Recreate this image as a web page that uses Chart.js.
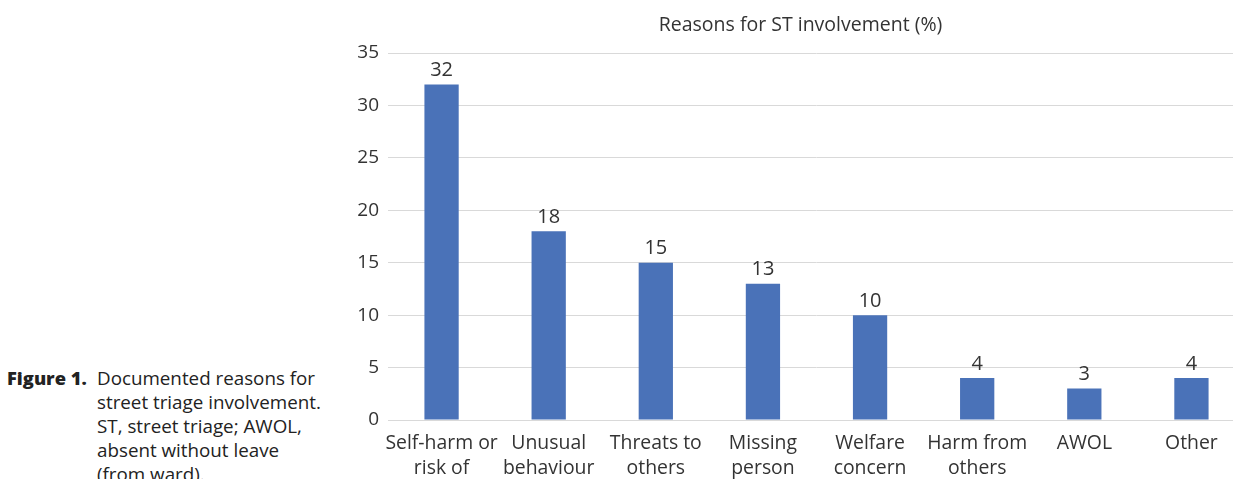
<!DOCTYPE html>
<html>
<head>
<meta charset="utf-8">
<script src="https://cdn.jsdelivr.net/npm/chart.js@4/dist/chart.umd.min.js"></script>
<style>
  html, body { margin: 0; padding: 0; background: #fff; overflow: hidden; width: 1233px; height: 479px; }
  #wrap { position: absolute; left: 340px; top: 0; width: 905px; height: 520px; }
  #caption { position: absolute; left: 7px; top: 366px; font-family: "Open Sans", sans-serif; font-size: 18.8px; color: #222; line-height: 24px; }
  #caption .fig { position: absolute; left: 0; top: 0; font-weight: 800; white-space: nowrap; font-size: 18.3px; }
  #caption .txt { position: absolute; left: 90px; top: 0; width: 250px; white-space: nowrap; }
</style>
</head>
<body>
<div id="caption">
  <span class="fig">Figure 1.</span>
  <div class="txt">Documented reasons for<br>street triage involvement.<br>ST, street triage; AWOL,<br>absent without leave<br>(from ward).</div>
</div>
<div id="wrap"><canvas id="c"></canvas></div>
<script>
const categories = [
  ["Self-harm or", "risk of", "self-harm"],
  ["Unusual", "behaviour"],
  ["Threats to", "others"],
  ["Missing", "person"],
  ["Welfare", "concern"],
  ["Harm from", "others"],
  "AWOL",
  "Other"
];
const values = [32, 18, 15, 13, 10, 4, 3, 4];
const yTicks = [0, 5, 10, 15, 20, 25, 30, 35];
const chartTitle = "Reasons for ST involvement (%)";

const FONT = '"Open Sans", sans-serif';
const TEXT = '#333333';

const valueLabels = {
  id: 'valueLabels',
  afterDatasetsDraw(chart) {
    const ctx = chart.ctx;
    const meta = chart.getDatasetMeta(0);
    ctx.save();
    ctx.font = '20px ' + FONT;
    ctx.fillStyle = TEXT;
    ctx.textAlign = 'center';
    ctx.textBaseline = 'bottom';
    meta.data.forEach((bar, i) => {
      ctx.fillText(String(chart.data.datasets[0].data[i]), bar.x, bar.y - 4);
    });
    ctx.restore();
  }
};

const canvas = document.getElementById('c');
canvas.width = 905; canvas.height = 520;
new Chart(canvas, {
  type: 'bar',
  data: {
    labels: categories,
    datasets: [{
      data: values,
      backgroundColor: '#4a72b8',
      borderWidth: 0,
      categoryPercentage: 1,
      barPercentage: 0.32
    }]
  },
  options: {
    responsive: false,
    animation: false,
    devicePixelRatio: 1,
    layout: { padding: { left: 16, right: 0, top: 0, bottom: 0 } },
    plugins: {
      legend: { display: false },
      tooltip: { enabled: false },
      title: {
        display: true,
        text: chartTitle,
        color: TEXT,
        font: { family: FONT, size: 19.5, weight: 'normal', lineHeight: 1.2 },
        padding: { top: 14, bottom: 15.6 }
      }
    },
    scales: {
      x: {
        grid: { display: false, drawTicks: false },
        border: { display: true, color: '#d9d9d9', width: 1 },
        ticks: {
          color: TEXT,
          font: { family: FONT, size: 19.4, lineHeight: 1.3 },
          padding: 11,
          maxRotation: 0,
          autoSkip: false
        },
        afterFit(s) { s.height = 100; }
      },
      y: {
        min: 0,
        max: 35,
        afterBuildTicks(s) { s.ticks = yTicks.map(v => ({ value: v })); },
        grid: { color: '#d9d9d9', lineWidth: 1, drawTicks: false },
        border: { display: false },
        ticks: {
          color: TEXT,
          font: { family: FONT, size: 19 },
          padding: 9
        },
        afterFit(s) { s.width = 32; }
      }
    }
  },
  plugins: [valueLabels]
});
</script>
</body>
</html>
